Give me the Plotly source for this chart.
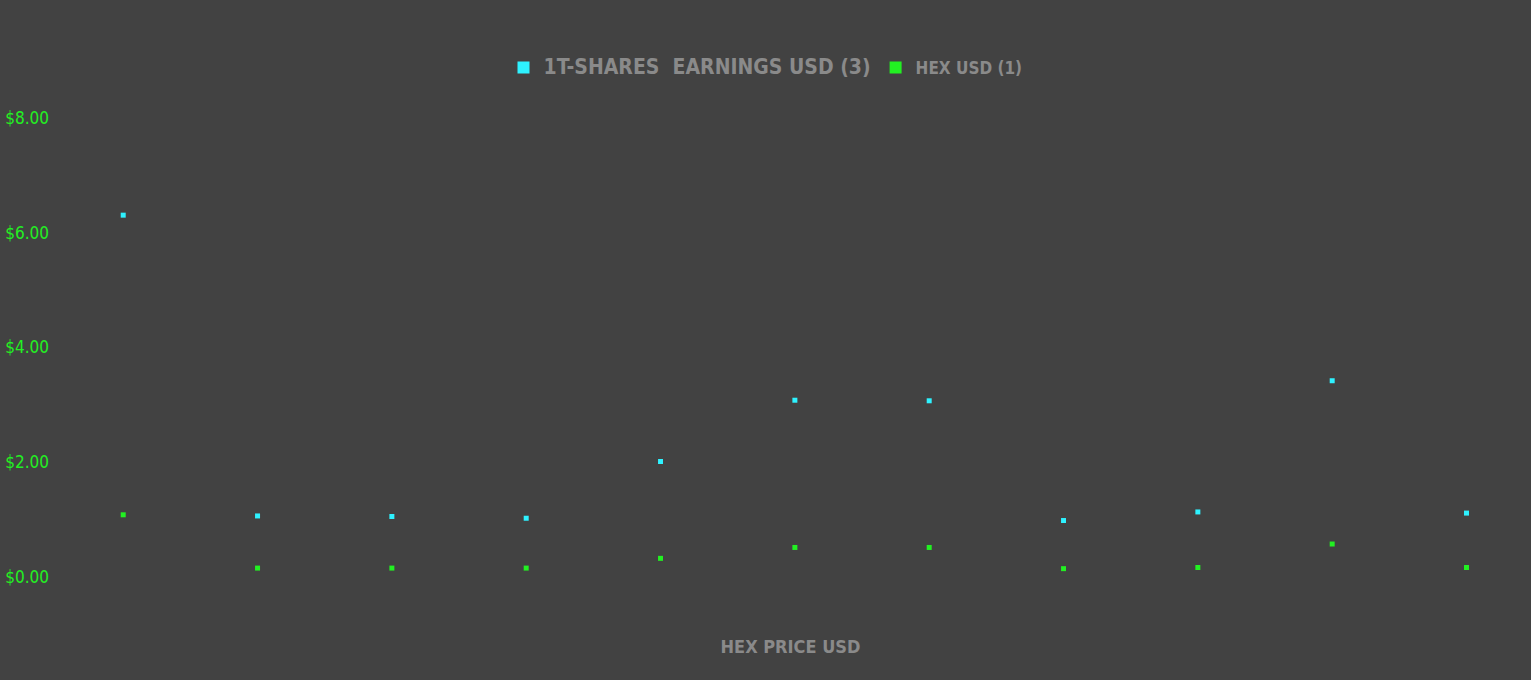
import plotly.graph_objects as go

categories = list(range(11))
earnings_usd = [6.31, 1.06, 1.05, 1.02, 2.01, 3.08, 3.07, 0.98, 1.13, 3.42, 1.11]
hex_usd = [1.08, 0.15, 0.15, 0.15, 0.32, 0.51, 0.51, 0.14, 0.16, 0.57, 0.16]
y_tickvals = [0, 2, 4, 6, 8]
y_ticktext = ["$0.00", "$2.00", "$4.00", "$6.00", "$8.00"]

FONT = "Liberation Sans Narrow, DejaVu Sans Condensed, Arial Narrow, sans-serif"
BG = "#424242"

fig = go.Figure()
fig.add_trace(go.Scatter(
    x=categories, y=earnings_usd, mode="markers",
    name="<span style='font-size:21px'><b>1T-SHARES  EARNINGS USD (3)</b></span>",
    marker=dict(symbol="square", size=5, color="#2ef2ff", line=dict(width=0)),
))
fig.add_trace(go.Scatter(
    x=categories, y=hex_usd, mode="markers",
    name="<b>HEX USD (1)</b>",
    marker=dict(symbol="square", size=5, color="#22f022", line=dict(width=0)),
))

fig.update_layout(
    width=1531, height=680,
    paper_bgcolor=BG, plot_bgcolor=BG,
    margin=dict(l=50, r=0, t=100, b=80),
    font=dict(family=FONT, color="#8a8a8a"),
    showlegend=True,
    legend=dict(
        orientation="h", x=0.5, xanchor="center", xref="container",
        y=0.9, yanchor="middle", yref="container",
        font=dict(family=FONT, size=17, color="#8a8a8a"),
        itemsizing="constant", bgcolor="rgba(0,0,0,0)",
    ),
    xaxis=dict(
        range=[-0.545, 10.48], showticklabels=False, showgrid=False,
        zeroline=False, showline=False, ticks="",
        title=dict(text="<b>HEX PRICE USD</b>", font=dict(family=FONT, size=18, color="#8a8a8a"), standoff=40),
    ),
    yaxis=dict(
        range=[-0.407, 8.32], tickvals=y_tickvals, ticktext=y_ticktext,
        showgrid=False, zeroline=False, showline=False, ticks="",
        tickfont=dict(family=FONT, size=17, color="#22f022"),
    ),
)

fig.write_html("out.html")
